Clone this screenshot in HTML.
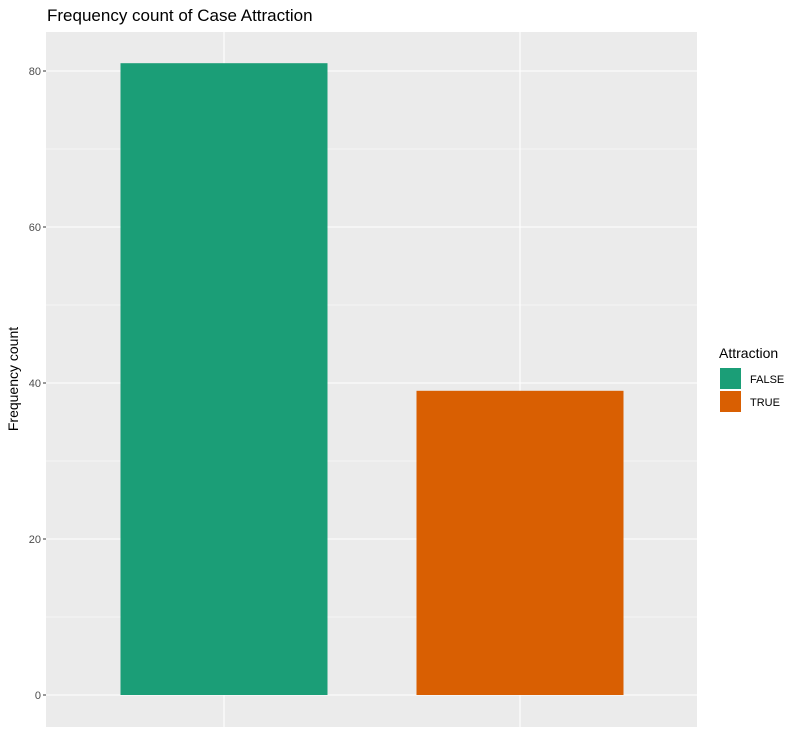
<!DOCTYPE html>
<html><head><meta charset="utf-8"><style>
body{margin:0;background:#fff;font-family:"Liberation Sans",sans-serif;}
</style></head><body>
<svg width="800" height="738" xmlns="http://www.w3.org/2000/svg" id="chart">
<text x="47" y="21" font-size="17" fill="#000">Frequency count of Case Attraction</text>
<rect x="46" y="32" width="651" height="695" fill="#EBEBEB"/>
<g id="grid"></g><g id="bars"></g><g id="yticks"></g>
<text transform="translate(18,379) rotate(-90)" text-anchor="middle" font-size="14" fill="#000">Frequency count</text>
<text x="719" y="358" font-size="14" fill="#000">Attraction</text>
<g id="legend"></g>
</svg>
<script>
const categories=["FALSE","TRUE"];
const counts=[81,39];
const colors=["#1B9E77","#D95F02"];
const yTicks=[0,20,40,60,80];
const NS="http://www.w3.org/2000/svg";
const y0=695,pxPerUnit=7.8;
const yScale=v=>y0-v*pxPerUnit;
const xScale=i=>224+i*296;
const bw=207;
function mk(tag,attrs,parent){const e=document.createElementNS(NS,tag);for(const k in attrs)e.setAttribute(k,attrs[k]);document.getElementById(parent).appendChild(e);return e;}
for(let i=0;i<yTicks.length;i++){
  const v=yTicks[i];
  const l=mk("line",{x1:46,x2:697,y1:yScale(v),y2:yScale(v),stroke:"#fff","stroke-width":1.1},"grid");
  
  
  if(i<yTicks.length-1){
    const m=mk("line",{x1:46,x2:697,y1:yScale(v+10),y2:yScale(v+10),stroke:"#fff","stroke-width":0.5},"grid");
    
    
  }
  const t=mk("text",{x:41,y:yScale(v)+4,"text-anchor":"end","font-size":11,fill:"#4D4D4D"},"yticks");
  t.textContent=v;
  
  
  const tk=mk("line",{x1:43,x2:46,y1:yScale(v),y2:yScale(v),stroke:"#333"},"yticks");
  
  
}
{const m=mk("line",{x1:46,x2:697,y1:yScale(90),y2:yScale(90),stroke:"#fff","stroke-width":0.5},"grid");

}
categories.forEach((c,i)=>{
  const g=mk("line",{x1:xScale(i),x2:xScale(i),y1:32,y2:727,stroke:"#fff","stroke-width":1.1},"grid");
  
  
  const b=mk("rect",{x:xScale(i)-bw/2,y:yScale(counts[i]),width:bw,height:y0-yScale(counts[i]),fill:colors[i]},"bars");
  
  
  const k=mk("rect",{x:720,y:368+i*23,width:21,height:21,fill:colors[i]},"legend");
  
  
  const t=mk("text",{x:750,y:383+i*23,"font-size":11,fill:"#000"},"legend");
  t.textContent=c;
  
  
});
</script>
</body></html>
